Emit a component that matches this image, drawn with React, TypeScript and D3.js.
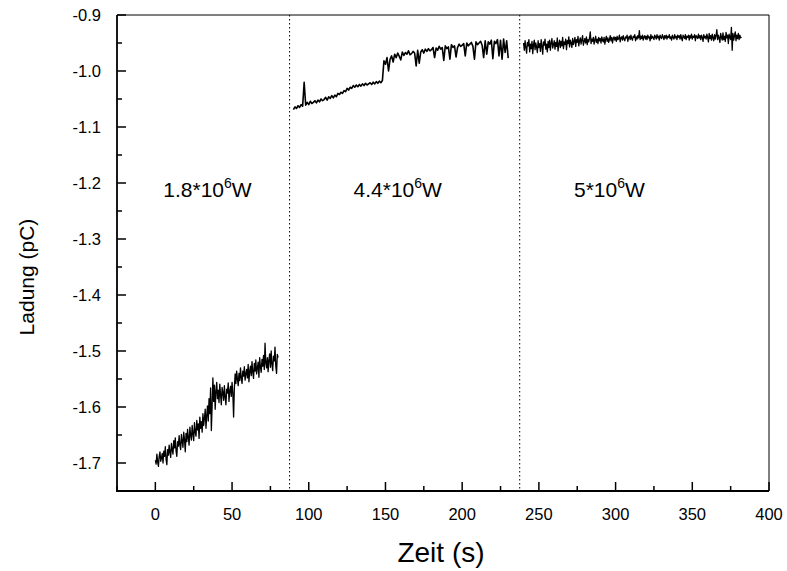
import React from "react";
import * as d3 from "d3";

// Sampling grid of each recorded segment (seconds)
const seg1Start = 0;
const seg1Step = 0.5;
const seg2Start = 90;
const seg2Step = 1;
const seg3Start = 240;
const seg3Step = 0.5;

// Charge readings (pC)
const seg1Values = [
  -1.695, -1.702, -1.684, -1.698, -1.706, -1.688, -1.680, -1.697, -1.691, -1.683,
  -1.700, -1.679, -1.688, -1.671, -1.694, -1.703, -1.676, -1.686, -1.668, -1.681,
  -1.690, -1.665, -1.676, -1.684, -1.660, -1.673, -1.655, -1.679, -1.688, -1.662,
  -1.670, -1.651, -1.668, -1.676, -1.649, -1.661, -1.672, -1.645, -1.658, -1.680,
  -1.647, -1.662, -1.640, -1.655, -1.668, -1.636, -1.650, -1.659, -1.633, -1.648,
  -1.660, -1.628, -1.645, -1.652, -1.624, -1.641, -1.630, -1.656, -1.618, -1.638,
  -1.626, -1.645, -1.612, -1.633, -1.620, -1.604, -1.638, -1.615, -1.598, -1.625,
  -1.585, -1.612, -1.566, -1.642, -1.598, -1.548, -1.590, -1.561, -1.604, -1.572,
  -1.556, -1.585, -1.570, -1.592, -1.559, -1.578, -1.596, -1.565, -1.574, -1.588,
  -1.562, -1.583, -1.596, -1.568, -1.575, -1.557, -1.590, -1.571, -1.563, -1.581,
  -1.556, -1.576, -1.618, -1.566, -1.541, -1.558, -1.536, -1.550, -1.562, -1.540,
  -1.553, -1.530, -1.548, -1.558, -1.536, -1.545, -1.528, -1.552, -1.541, -1.533,
  -1.548, -1.524, -1.555, -1.536, -1.527, -1.544, -1.519, -1.538, -1.549, -1.522,
  -1.536, -1.516, -1.541, -1.530, -1.520, -1.547, -1.512, -1.529, -1.538, -1.515,
  -1.527, -1.508, -1.533, -1.486, -1.522, -1.530, -1.512, -1.537, -1.516, -1.505,
  -1.529, -1.500, -1.524, -1.535, -1.509, -1.518, -1.493, -1.527, -1.540, -1.506,
  -1.512,
];

const seg2Values = [
  -1.069, -1.064, -1.067, -1.062, -1.065, -1.060, -1.063, -1.020, -1.061, -1.056,
  -1.060, -1.054, -1.058, -1.056, -1.053, -1.057, -1.052, -1.055, -1.050, -1.053,
  -1.051, -1.047, -1.052, -1.046, -1.049, -1.044, -1.048, -1.043, -1.046, -1.040,
  -1.042, -1.038, -1.040, -1.035, -1.037, -1.031, -1.034, -1.029, -1.031, -1.026,
  -1.029, -1.025, -1.028, -1.024, -1.027, -1.023, -1.026, -1.022, -1.025, -1.023,
  -1.021, -1.024, -1.020, -1.023, -1.019, -1.022, -1.018, -1.021, -1.017, -0.982,
  -0.988, -0.976, -1.000, -0.979, -0.973, -0.984, -0.970, -0.976, -0.968, -0.974,
  -0.980, -0.966, -0.972, -0.967, -0.970, -0.964, -0.971, -0.969, -0.965, -0.968,
  -0.991, -0.963, -0.986, -0.966, -0.962, -0.968, -0.961, -0.965, -0.960, -0.964,
  -0.962, -0.958, -0.976, -0.959, -0.963, -0.956, -0.961, -0.958, -0.981, -0.955,
  -0.960, -0.957, -0.979, -0.953, -0.958, -0.955, -0.975, -0.958, -0.952, -0.956,
  -0.954, -0.951, -0.973, -0.950, -0.955, -0.952, -0.949, -0.956, -0.979, -0.948,
  -0.953, -0.950, -0.947, -0.954, -0.976, -0.946, -0.970, -0.948, -0.952, -0.945,
  -0.978, -0.947, -0.951, -0.944, -0.973, -0.945, -0.979, -0.943, -0.967, -0.946,
  -0.977,
];

const seg3Values = [
  -0.950, -0.963, -0.946, -0.958, -0.968, -0.949, -0.955, -0.944, -0.966, -0.952,
  -0.960, -0.947, -0.969, -0.953, -0.945, -0.962, -0.950, -0.957, -0.967, -0.946,
  -0.958, -0.951, -0.965, -0.944, -0.956, -0.970, -0.948, -0.954, -0.943, -0.961,
  -0.952, -0.966, -0.947, -0.958, -0.945, -0.963, -0.950, -0.942, -0.959, -0.953,
  -0.946, -0.961, -0.949, -0.956, -0.941, -0.964, -0.951, -0.945, -0.958, -0.947,
  -0.955, -0.940, -0.960, -0.948, -0.953, -0.943, -0.962, -0.946, -0.951, -0.939,
  -0.957, -0.945, -0.950, -0.958, -0.942, -0.953, -0.947, -0.940, -0.956, -0.944,
  -0.949, -0.938, -0.955, -0.946, -0.941, -0.952, -0.944, -0.937, -0.954, -0.947,
  -0.942, -0.950, -0.939, -0.953, -0.944, -0.948, -0.941, -0.930, -0.951, -0.943,
  -0.947, -0.940, -0.952, -0.945, -0.938, -0.949, -0.943, -0.951, -0.940, -0.946,
  -0.942, -0.950, -0.939, -0.945, -0.948, -0.940, -0.952, -0.943, -0.938, -0.947,
  -0.941, -0.949, -0.944, -0.937, -0.946, -0.940, -0.950, -0.942, -0.939, -0.945,
  -0.940, -0.947, -0.938, -0.944, -0.942, -0.936, -0.948, -0.941, -0.939, -0.945,
  -0.937, -0.943, -0.946, -0.939, -0.941, -0.936, -0.947, -0.940, -0.938, -0.944,
  -0.936, -0.942, -0.945, -0.938, -0.940, -0.935, -0.946, -0.939, -0.943, -0.937,
  -0.941, -0.928, -0.944, -0.938, -0.942, -0.936, -0.945, -0.939, -0.937, -0.943,
  -0.938, -0.944, -0.936, -0.941, -0.939, -0.946, -0.935, -0.942, -0.938, -0.940,
  -0.944, -0.936, -0.939, -0.943, -0.935, -0.941, -0.938, -0.945, -0.936, -0.940,
  -0.942, -0.935, -0.939, -0.944, -0.937, -0.941, -0.936, -0.943, -0.938, -0.940,
  -0.935, -0.942, -0.939, -0.945, -0.936, -0.940, -0.943, -0.935, -0.941, -0.938,
  -0.944, -0.936, -0.940, -0.937, -0.943, -0.935, -0.941, -0.946, -0.936, -0.939,
  -0.942, -0.935, -0.944, -0.938, -0.940, -0.936, -0.945, -0.937, -0.941, -0.934,
  -0.943, -0.938, -0.940, -0.935, -0.946, -0.937, -0.939, -0.942, -0.934, -0.941,
  -0.937, -0.944, -0.936, -0.940, -0.947, -0.935, -0.941, -0.938, -0.943, -0.934,
  -0.940, -0.948, -0.933, -0.942, -0.937, -0.945, -0.934, -0.941, -0.946, -0.935,
  -0.943, -0.937, -0.926, -0.944, -0.936, -0.941, -0.949, -0.933, -0.940, -0.945,
  -0.932, -0.944, -0.938, -0.947, -0.931, -0.941, -0.936, -0.951, -0.934, -0.940,
  -0.944, -0.922, -0.963, -0.933, -0.945, -0.937, -0.930, -0.946, -0.936, -0.942,
  -0.933, -0.944, -0.936, -0.941, -0.939,
];

// Dotted separators between power settings (s)
const separatorTimes = [87.5, 237.5];

// Region annotations
const regionLabels = [
  { t: 34, base: "1.8*10", exp: "6", unit: "W" },
  { t: 158, base: "4.4*10", exp: "6", unit: "W" },
  { t: 296, base: "5*10", exp: "6", unit: "W" },
];
const regionLabelValue = -1.2255;

const xTicks = [0, 50, 100, 150, 200, 250, 300, 350, 400];
const xMinorTicks = [-25, 25, 75, 125, 175, 225, 275, 325, 375];
const yTicks = [-0.9, -1.0, -1.1, -1.2, -1.3, -1.4, -1.5, -1.6, -1.7];
const yMinorTicks = [-0.95, -1.05, -1.15, -1.25, -1.35, -1.45, -1.55, -1.65, -1.75];

const xLabel = "Zeit (s)";
const yLabel = "Ladung (pC)";

const W = 787;
const H = 571;
const left = 117;
const right = 769;
const top = 15;
const bottom = 491;
const FONT = "'Liberation Sans', Arial, sans-serif";

export default function App() {
  const x = d3.scaleLinear().domain([-25, 400]).range([left, right]);
  const y = d3.scaleLinear().domain([-1.75, -0.9]).range([bottom, top]);

  const toPoints = (start: number, step: number, vals: number[]) =>
    vals.map((v, i) => [start + i * step, v] as [number, number]);

  const line = d3
    .line<[number, number]>()
    .x((d) => x(d[0]))
    .y((d) => y(d[1]));

  const segments = [
    { pts: toPoints(seg1Start, seg1Step, seg1Values), w: 1.3 },
    { pts: toPoints(seg2Start, seg2Step, seg2Values), w: 1.6 },
    { pts: toPoints(seg3Start, seg3Step, seg3Values), w: 1.3 },
  ];

  return (
    <svg
      width={W}
      height={H}
      style={{ position: "absolute", left: 0, top: 0, display: "block", background: "#fff" }}
      fontFamily={FONT}
    >
      <rect x={0} y={0} width={W} height={H} fill="#fff" />

      {/* separators */}
      {separatorTimes.map((t) => (
        <line
          key={t}
          x1={x(t)}
          x2={x(t)}
          y1={top}
          y2={bottom}
          stroke="#000"
          strokeWidth={1}
          strokeDasharray="1.5,2.5"
        />
      ))}

      {/* data */}
      {segments.map((s, i) => (
        <path
          key={i}
          d={line(s.pts) || ""}
          fill="none"
          stroke="#000"
          strokeWidth={s.w}
          strokeLinejoin="round"
        />
      ))}

      {/* frame */}
      <line x1={left} x2={right} y1={top} y2={top} stroke="#000" strokeWidth={1} />
      <line x1={right} x2={right} y1={top} y2={bottom} stroke="#000" strokeWidth={1} />
      <line x1={left} x2={left} y1={top} y2={bottom + 0.8} stroke="#000" strokeWidth={1.8} />
      <line x1={left - 0.9} x2={right} y1={bottom} y2={bottom} stroke="#000" strokeWidth={1.8} />

      {/* x ticks */}
      {xTicks.map((t) => (
        <g key={"xt" + t}>
          <line x1={x(t)} x2={x(t)} y1={bottom} y2={bottom - 9} stroke="#000" strokeWidth={1.5} />
          <text x={x(t)} y={520} textAnchor="middle" fontSize={16.5}>
            {t}
          </text>
        </g>
      ))}
      {xMinorTicks.map((t) => (
        <line key={"xm" + t} x1={x(t)} x2={x(t)} y1={bottom} y2={bottom - 5} stroke="#000" strokeWidth={1.5} />
      ))}

      {/* y ticks */}
      {yTicks.map((t) => (
        <g key={"yt" + t}>
          <line x1={left} x2={left + 9} y1={y(t)} y2={y(t)} stroke="#000" strokeWidth={1.5} />
          <text x={101} y={y(t)} dy="0.36em" textAnchor="end" fontSize={16.5}>
            {d3.format(".1f")(t).replace("−", "-")}
          </text>
        </g>
      ))}
      {yMinorTicks.map((t) => (
        <line key={"ym" + t} x1={left} x2={left + 5} y1={y(t)} y2={y(t)} stroke="#000" strokeWidth={1.5} />
      ))}

      {/* region labels */}
      {regionLabels.map((r) => (
        <text key={r.base + r.t} x={x(r.t)} y={y(regionLabelValue)} textAnchor="middle" fontSize={21}>
          {r.base}
          <tspan fontSize={14} dy={-9}>
            {r.exp}
          </tspan>
          <tspan dy={9}>{r.unit}</tspan>
        </text>
      ))}

      {/* axis titles */}
      <text x={441} y={562} textAnchor="middle" fontSize={28}>
        {xLabel}
      </text>
      <text
        transform={`translate(34, ${(top + bottom) / 2 + 24}) rotate(-90)`}
        textAnchor="middle"
        fontSize={21}
      >
        {yLabel}
      </text>
    </svg>
  );
}
